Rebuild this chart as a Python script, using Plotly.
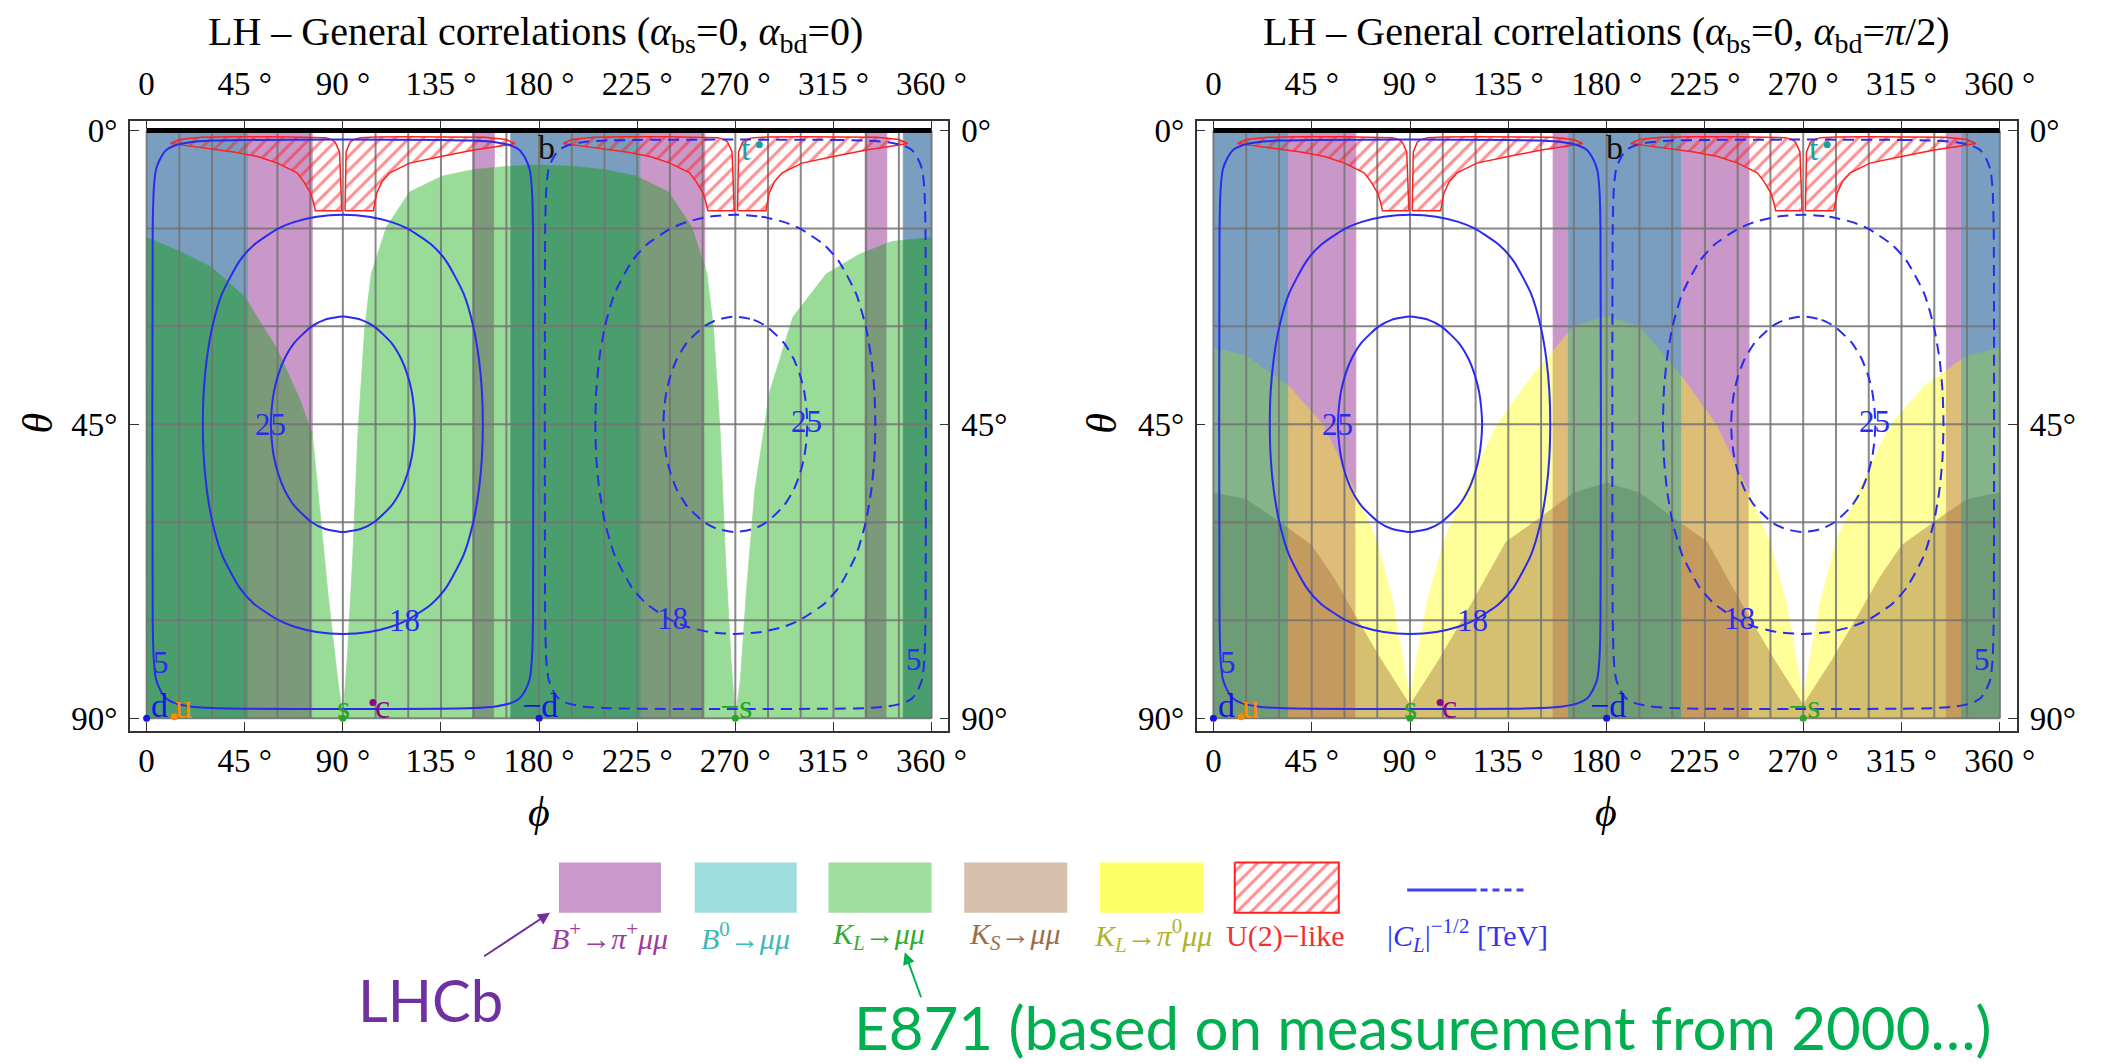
import numpy as np
import plotly.graph_objects as go

W, H = 2105, 1064

# ---------------- data ----------------
phi_ticks = [0, 45, 90, 135, 180, 225, 270, 315, 360]
phi_ticktext = ['0', '45 °', '90 °', '135 °', '180 °', '225 °', '270 °', '315 °', '360 °']
theta_ticks = [0, 45, 90]
theta_ticktext = ['0°', '45°', '90°']

panel_titles = ['LH – General correlations (<i>α</i><sub>bs</sub>=0, <i>α</i><sub>bd</sub>=0)',
                'LH – General correlations (<i>α</i><sub>bs</sub>=0, <i>α</i><sub>bd</sub>=<i>π</i>/2)']

# B-meson bands: phi edges and kind (s: B0 & B+ excluded, p: B+ excluded, w: allowed)
bandL_edges = [0, 46.7, 76, 149.5, 159.5, 167, 226.7, 256, 329.5, 339.5, 347, 360]
bandL_kinds = ['s', 'p', 'w', 'p', 'w', 's', 'p', 'w', 'p', 'w', 's']
bandR_edges = [0, 34.3, 65.2, 155.5, 162.5, 214.3, 245.2, 335.5, 342.5, 360]
bandR_kinds = ['s', 'p', 'w', 'p', 's', 'p', 'w', 'p', 's']

# K_L -> mu mu excluded region (left panel): theta > boundary(phi)
kl_phi = [0, 15, 30, 45, 60, 70, 76, 79, 83.3, 87.6, 90, 92, 94.6, 97, 100, 103, 110, 120.7, 135.5, 150,
          165, 180, 195, 210, 224.5, 239.3, 250, 257, 260, 263, 265.4, 268, 270, 272.4, 275, 279, 285.8,
          296.4, 311.6, 326.7, 341.8, 360]
kl_theta = [16.4, 18.5, 21, 25.5, 33.6, 41, 46.5, 57, 71.4, 84, 90, 81, 65, 46, 30.5, 22, 14.8, 9.4, 7.0, 6.0,
            5.5, 5.3, 5.5, 6.0, 7.0, 9.4, 14.8, 22, 30.5, 46, 65, 81, 90, 84, 71, 55, 40,
            28.6, 22, 19, 17, 16.4]

# right panel: K_L -> pi0 mu mu (A) and K_S -> mu mu (B) excluded regions
ya_phi = [0, 15, 34.3, 50, 64.5, 75, 82, 87, 90, 93, 98, 105.4, 115.5, 130, 146, 165, 180, 195, 214, 230,
          244.5, 254.6, 262, 267, 270, 273, 278, 285, 295.5, 310, 325.7, 345, 360]
ya_theta = [33.3, 34.5, 39.1, 45, 55, 63, 72, 81, 87, 81, 72, 63, 55, 45, 37.5, 30, 28.5, 30, 37.5, 45,
            55, 63, 72, 81, 87, 81, 72, 63, 55, 45, 39.1, 34.5, 33.3]
kb_phi = [0, 15, 31.2, 44.8, 55, 65, 77, 90, 103, 115, 125, 134, 148.8, 165, 180, 195, 211, 226, 235, 245,
          257, 270, 283, 295, 305, 315.2, 328.8, 345, 360]
kb_theta = [55.5, 56.5, 60.2, 63.5, 68.5, 74.4, 81.2, 88, 81.2, 74.4, 68.5, 63, 59.5, 55.5, 54, 55.5, 59.5, 63, 68.5, 74.4,
            81.2, 88, 81.2, 74.4, 68.5, 63.5, 60.2, 56.5, 55.5]

# U(2)-like region (two lobes per half, hatched)
u2L_phi = [11, 15, 25, 40, 60, 75, 82, 85, 86.5, 88.5, 89.1, 89.5, 84, 77.4, 76.5, 75.2, 72, 69, 60, 50.9, 40, 30, 20, 11]
u2L_theta = [2.0, 1.4, 1.05, 0.95, 0.95, 1.0, 1.1, 1.4, 1.8, 3.3, 8.0, 12.3, 12.3, 12.3, 11, 9.6, 7.8, 6.5, 5.0, 4.0, 3.3, 2.8, 2.4, 2.0]
u2R_phi = [91.0, 91.5, 93.3, 95, 98, 105, 120, 140, 155, 165, 169, 160, 150, 135, 120.6, 111.5, 108, 105.5, 104.7, 104, 97, 91.0]
u2R_theta = [12.3, 3.3, 1.8, 1.4, 1.1, 1.0, 0.95, 0.95, 1.05, 1.4, 2.0, 2.5, 3.0, 4.0, 5.0, 6.5, 7.8, 9.6, 11, 12.3, 12.3, 12.3]

# |C_L|^{-1/2} contours (left half; right half identical shifted by 180 deg, dashed)
c25_phi = [90, 98.4, 104.3, 112.2, 116.8, 119.7, 121.6, 122.6, 123.0, 122.6, 121.6, 119.7, 116.8, 112.2, 104.3, 98.4,
           90, 81.6, 75.7, 67.8, 63.2, 60.3, 58.4, 57.4, 57.0, 57.4, 58.4, 60.3, 63.2, 67.8, 75.7, 81.6, 90]
c25_theta = [28.5, 29, 30, 32.5, 35, 37.5, 40, 42.5, 45, 47.5, 50, 52.5, 55, 57.5, 60, 61,
             61.5, 61, 60, 57.5, 55, 52.5, 50, 47.5, 45, 42.5, 40, 37.5, 35, 32.5, 30, 29, 28.5]
c18_phi = [90, 102.0, 112.1, 119.5, 130.7, 137.4, 145.4, 149.8, 152.4, 153.8, 154.2, 153.8, 152.4, 149.8, 145.4, 137.4,
           130.7, 119.5, 112.1, 102.0, 90, 78.0, 67.9, 60.5, 49.3, 42.6, 34.6, 30.2, 27.6, 26.2, 25.8, 26.2, 27.6,
           30.2, 34.6, 42.6, 49.3, 60.5, 67.9, 78.0, 90]
c18_theta = [12.9, 13.2, 14, 15, 17.5, 20, 25, 30, 35, 40, 45, 50, 55, 60, 65, 70,
             72.5, 75, 76, 76.8, 77.1, 76.8, 76, 75, 72.5, 70, 65, 60, 55, 50, 45, 40, 35,
             30, 25, 20, 17.5, 15, 14, 13.2, 12.9]
c5_phi = [90, 135, 150, 160, 167, 171, 173.7, 175.7, 176.7, 177.2, 177.2, 176.7, 175.7, 173.7, 171, 167, 160, 150, 135,
          90, 45, 30, 20, 13, 9, 6.3, 4.3, 3.3, 2.8, 2.8, 3.3, 4.3, 6.3, 9, 13, 20, 30, 45, 90]
c5_theta = [1.4, 1.45, 1.55, 1.8, 2.3, 3, 4.3, 6, 9, 15, 75, 81, 84, 85.7, 87, 87.7, 88.2, 88.45, 88.55,
            88.6, 88.55, 88.45, 88.2, 87.7, 87, 85.7, 84, 81, 75, 15, 9, 6, 4.3, 3, 2.3, 1.8, 1.55, 1.45, 1.4]
contour_labels = ['25', '18', '5', '25', '18', '5']
contour_label_phi = [57, 118.5, 6.6, 302.5, 241, 352]
contour_label_theta = [45, 75, 81.5, 44.5, 74.8, 81]

# quark points
quark_names = ['d', 'u', 's', 'c', '−d', '−s', 'b', 't']
quark_dot_phi = [0, 12.7, 90, 103.8, 180, 270, None, 281]
quark_dot_theta = [90, 89.8, 90, 87.6, 90, 90, None, 2.2]
quark_lab_phi = [6, 17, 90.4, 108, 180.5, 270.5, 183.5, 275]
quark_lab_theta = [88, 88.2, 88.3, 88.2, 88, 88.2, 2.6, 2.8]
quark_colors = ['#1515E8', '#FF8A00', '#22A822', '#8A0A8A', '#1515E8', '#22A822', '#111111', '#1AA0A0']

# legend
legend_labels = ['<i>B</i><sup>+</sup>→<i>π</i><sup>+</sup><i>μμ</i>', '<i>B</i><sup>0</sup>→<i>μμ</i>',
                 '<i>K<sub>L</sub></i>→<i>μμ</i>', '<i>K<sub>S</sub></i>→<i>μμ</i>',
                 '<i>K<sub>L</sub></i>→<i>π</i><sup>0</sup><i>μμ</i>', 'U(2)−like',
                 '|<i>C<sub>L</sub></i>|<sup>−1/2</sup> [TeV]']
legend_label_colors = ['#9C3C9C', '#3CB8B8', '#2EAD2E', '#9A6E4A', '#B2B22A', '#F03030', '#3434F0']
legend_box_colors = ['#C999C9', '#9EDEDE', '#9EDE9E', '#D6C0AC', '#FFFF66']

# ---------------- styles ----------------
base_col = {'s': '#7A9EBF', 'p': '#C998C8'}
col_KL = {'w': '#98DC98', 's': '#4A9E6E', 'p': '#7A9A7A'}
col_A = {'w': '#FFFF99', 's': '#85B38A', 'p': '#DDBD78'}
col_B = {'w': '#D5C070', 's': '#6E9C76', 'p': '#C49A5E'}
BLUE = '#2A2AF0'
SERIF = 'Liberation Serif'
HATCH = dict(shape='/', fgcolor='#FF2020', bgcolor='rgba(0,0,0,0)', size=10, solidity=0.3)

fig = go.Figure()


def poly(xs, ys, color, xa, ya):
    fig.add_trace(go.Scatter(x=xs, y=ys, fill='toself', fillcolor=color, mode='lines',
                             line=dict(width=0.8, color=color), hoverinfo='skip', showlegend=False,
                             xaxis=xa, yaxis=ya))


def dome_piece(phis, thetas, a, b):
    phis = np.asarray(phis, float)
    thetas = np.asarray(thetas, float)
    inner = (phis > a) & (phis < b)
    xs = [a] + list(phis[inner]) + [b]
    ys = [float(np.interp(a, phis, thetas))] + list(thetas[inner]) + [float(np.interp(b, phis, thetas))]
    xs += [b, a, a]
    ys += [90, 90, ys[0]]
    return xs, ys


panels = [
    dict(xa='x', ya='y', edges=bandL_edges, kinds=bandL_kinds, domes=[(kl_phi, kl_theta, col_KL)]),
    dict(xa='x2', ya='y2', edges=bandR_edges, kinds=bandR_kinds,
         domes=[(ya_phi, ya_theta, col_A), (kb_phi, kb_theta, col_B)]),
]

for P in panels:
    xa, ya = P['xa'], P['ya']
    edges, kinds = P['edges'], P['kinds']
    for a, b, k in zip(edges[:-1], edges[1:], kinds):
        if k in base_col:
            poly([a, b, b, a, a], [0, 0, 90, 90, 0], base_col[k], xa, ya)
    for dphi, dth, cmap in P['domes']:
        for a, b, k in zip(edges[:-1], edges[1:], kinds):
            xs, ys = dome_piece(dphi, dth, a, b)
            poly(xs, ys, cmap[k], xa, ya)
    gx, gy = [], []
    for p in range(0, 361, 15):
        gx += [p, p, None]
        gy += [0, 90, None]
    for t in range(0, 91, 15):
        gx += [0, 360, None]
        gy += [t, t, None]
    fig.add_trace(go.Scatter(x=gx, y=gy, mode='lines', line=dict(color='rgba(115,115,115,0.85)', width=2),
                             hoverinfo='skip', showlegend=False, xaxis=xa, yaxis=ya))
    for shift in (0, 180):
        for lp, lt in ((u2L_phi, u2L_theta), (u2R_phi, u2R_theta)):
            fig.add_trace(go.Scatter(x=[v + shift for v in lp], y=lt, fill='toself', mode='lines',
                                     fillcolor='rgba(0,0,0,0)', fillpattern=HATCH,
                                     line=dict(color='#FF2020', width=1.5), hoverinfo='skip',
                                     showlegend=False, xaxis=xa, yaxis=ya))
    for shift, dash in ((0, 'solid'), (180, '11px,7px')):
        for cp, ct in ((c25_phi, c25_theta), (c18_phi, c18_theta), (c5_phi, c5_theta)):
            fig.add_trace(go.Scatter(x=[v + shift for v in cp], y=ct, mode='lines',
                                     line=dict(color=BLUE, width=2, dash=dash, shape='spline', smoothing=0.6),
                                     hoverinfo='skip', showlegend=False, xaxis=xa, yaxis=ya))
    fig.add_trace(go.Scatter(x=[0, 360], y=[0, 0], mode='lines', line=dict(color='black', width=5),
                             hoverinfo='skip', showlegend=False, xaxis=xa, yaxis=ya))
    fig.add_trace(go.Scatter(x=quark_dot_phi, y=quark_dot_theta, mode='markers',
                             marker=dict(color=quark_colors, size=7), hoverinfo='skip', showlegend=False,
                             xaxis=xa, yaxis=ya))
    for name, p, t, c in zip(quark_names, quark_lab_phi, quark_lab_theta, quark_colors):
        fig.add_annotation(x=p, y=t, xref=xa, yref=ya, text=name, showarrow=False, xanchor='center',
                           yanchor='middle', font=dict(family=SERIF, size=34, color=c))
    for lab, p, t in zip(contour_labels, contour_label_phi, contour_label_theta):
        fig.add_annotation(x=p, y=t, xref=xa, yref=ya, text=lab, showarrow=False, xanchor='center',
                           yanchor='middle', font=dict(family=SERIF, size=31, color=BLUE))

for xa, ya in (('x3', 'y'), ('x', 'y3'), ('x4', 'y2'), ('x2', 'y4')):
    fig.add_trace(go.Scatter(x=[0], y=[0], mode='markers', marker=dict(opacity=0), hoverinfo='skip',
                             showlegend=False, xaxis=xa, yaxis=ya))

# ---------------- legend ----------------
box_x = [(564, 667), (701, 804), (836, 940), (973, 1077), (1110, 1214)]
for (a, b), c in zip(box_x, legend_box_colors):
    fig.add_trace(go.Scatter(x=[a, b, b, a, a], y=[866, 866, 917, 917, 866], fill='toself', fillcolor=c,
                             mode='lines', line=dict(width=0, color=c), hoverinfo='skip', showlegend=False,
                             xaxis='x5', yaxis='y5'))
fig.add_trace(go.Scatter(x=[1246, 1351, 1351, 1246, 1246], y=[866, 866, 917, 917, 866], fill='toself',
                         fillcolor='rgba(0,0,0,0)', fillpattern=HATCH,
                         mode='lines', line=dict(width=2, color='#FF2020'), hoverinfo='skip', showlegend=False,
                         xaxis='x5', yaxis='y5'))
fig.add_trace(go.Scatter(x=[1420, 1490], y=[894, 894], mode='lines', line=dict(color='#4040F0', width=3),
                         hoverinfo='skip', showlegend=False, xaxis='x5', yaxis='y5'))
fig.add_trace(go.Scatter(x=[1494, 1540], y=[894, 894], mode='lines',
                         line=dict(color='#4040F0', width=3, dash='7px,5px'),
                         hoverinfo='skip', showlegend=False, xaxis='x5', yaxis='y5'))
label_x = [615, 752, 887, 1024, 1163, 1297, 1481]
for lx, lab, c in zip(label_x, legend_labels, legend_label_colors):
    fig.add_annotation(x=lx, y=940, xref='x5', yref='y5', text=lab, showarrow=False, xanchor='center',
                       yanchor='middle', font=dict(family=SERIF, size=30, color=c))

fig.add_annotation(x=434, y=1005, xref='x5', yref='y5', text='LHCb', showarrow=False, xanchor='center',
                   yanchor='middle', font=dict(family='Lato', size=58, color='#7030A0'))
fig.add_annotation(x=860, y=1033, xref='x5', yref='y5', text='E871 (based on measurement from 2000…)',
                   showarrow=False, xanchor='left', yanchor='middle',
                   font=dict(family='Lato', size=60, color='#00B050'))
fig.add_annotation(x=555, y=917, ax=487, ay=962, xref='x5', yref='y5', axref='x5', ayref='y5', text='',
                   showarrow=True, arrowhead=2, arrowsize=1.2, arrowwidth=2, arrowcolor='#7030A0')
fig.add_annotation(x=913, y=957, ax=930, ay=1004, xref='x5', yref='y5', axref='x5', ayref='y5', text='',
                   showarrow=True, arrowhead=2, arrowsize=1.2, arrowwidth=2, arrowcolor='#00B050')

for cx, t in zip((540, 1621), panel_titles):
    fig.add_annotation(x=cx / W, y=1 - 27 / H, xref='paper', yref='paper', text=t, showarrow=False,
                       xanchor='center', yanchor='middle', font=dict(family=SERIF, size=40, color='black'))
for cx in (544, 1621):
    fig.add_annotation(x=cx / W, y=1 - 815 / H, xref='paper', yref='paper', text='<i>ϕ</i>', showarrow=False,
                       xanchor='center', yanchor='middle', font=dict(family=SERIF, size=42, color='black'))
for cx in (38, 1112):
    fig.add_annotation(x=cx / W, y=1 - 421 / H, xref='paper', yref='paper', text='<i>θ</i>', showarrow=False,
                       xanchor='center', yanchor='middle', textangle=-90,
                       font=dict(family=SERIF, size=42, color='black'))

# ---------------- axes ----------------
tickfont = dict(family=SERIF, size=33, color='black')
xr = [-7.7, 367.7]
yr = [91.97, -1.51]
ydom = [1 - 733 / H, 1 - 115 / H]
main_x = dict(range=xr, tickvals=phi_ticks, ticktext=phi_ticktext, showgrid=False, zeroline=False,
              showline=True, linecolor='#333', linewidth=1.5, mirror='ticks', ticks='inside', ticklen=9,
              tickcolor='#333', tickwidth=1.2, tickfont=tickfont)
main_y = dict(range=yr, tickvals=theta_ticks, ticktext=theta_ticktext, showgrid=False, zeroline=False,
              showline=True, linecolor='#333', linewidth=1.5, mirror='ticks', ticks='inside', ticklen=9,
              tickcolor='#333', tickwidth=1.2, tickfont=tickfont, domain=ydom, ticklabelstandoff=4)
top_x = dict(range=xr, tickvals=phi_ticks, ticktext=phi_ticktext, showgrid=False, zeroline=False,
             showline=False, ticks='', side='top', tickfont=tickfont, ticklabelstandoff=18)
right_y = dict(range=yr, tickvals=theta_ticks, ticktext=theta_ticktext, showgrid=False, zeroline=False,
               showline=False, ticks='', side='right', tickfont=tickfont, ticklabelstandoff=12)

fig.update_layout(
    width=W, height=H, margin=dict(l=0, r=0, t=0, b=0), paper_bgcolor='white', plot_bgcolor='rgba(0,0,0,0)',
    showlegend=False,
    xaxis=dict(main_x, domain=[131 / W, 957 / W], anchor='y'),
    yaxis=dict(main_y, anchor='x'),
    xaxis2=dict(main_x, domain=[1207.5 / W, 2035 / W], anchor='y2'),
    yaxis2=dict(main_y, anchor='x2'),
    xaxis3=dict(top_x, overlaying='x', anchor='y'),
    yaxis3=dict(right_y, overlaying='y', anchor='x'),
    xaxis4=dict(top_x, overlaying='x2', anchor='y2'),
    yaxis4=dict(right_y, overlaying='y2', anchor='x2'),
    xaxis5=dict(domain=[0, 1], range=[0, W], visible=False, anchor='y5'),
    yaxis5=dict(domain=[0, 0.2], range=[H, H - 0.2 * H], visible=False, anchor='x5'),
)

fig.write_html('out.html')
